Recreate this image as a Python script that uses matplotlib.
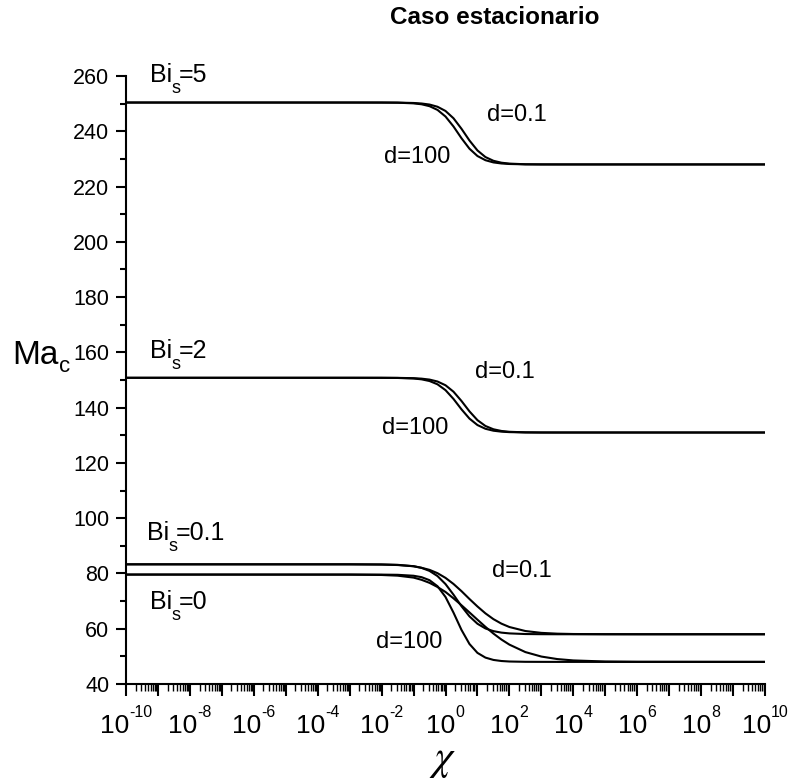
import numpy as np
import matplotlib
matplotlib.use("Agg")
import matplotlib.pyplot as plt
from matplotlib.ticker import FixedLocator, NullFormatter, LogLocator, MultipleLocator

plt.rcParams["font.family"] = ["Liberation Sans", "DejaVu Sans"]

# Critical Marangoni number vs chi for several Biot numbers, stationary case
log_chi = [-10, -3, -2, -1.5, -1, -0.75, -0.5, -0.25, 0, 0.25, 0.5, 0.75, 1,
           1.25, 1.5, 1.75, 2, 2.5, 3, 3.5, 4, 5, 6, 10]

ma_bi5_d100 = [250.4, 250.4, 250.39, 250.34, 250.10, 249.77, 249.08, 247.73,
               245.34, 241.74, 237.49, 233.69, 231.05, 229.53, 228.73, 228.35,
               228.16, 228.03, 228.0, 228.0, 228.0, 228.0, 228.0, 228.0]
ma_bi5_d01 = [250.4, 250.4, 250.39, 250.37, 250.24, 250.05, 249.67, 248.87,
              247.35, 244.71, 240.91, 236.66, 233.06, 230.67, 229.32, 228.63,
              228.30, 228.06, 228.01, 228.0, 228.0, 228.0, 228.0, 228.0]
ma_bi2_d100 = [150.8, 150.8, 150.79, 150.74, 150.54, 150.24, 149.63, 148.44,
               146.33, 143.15, 139.39, 136.03, 133.70, 132.35, 131.65, 131.31,
               131.14, 131.03, 131.0, 131.0, 131.0, 131.0, 131.0, 131.0]
ma_bi2_d01 = [150.8, 150.8, 150.79, 150.77, 150.66, 150.49, 150.15, 149.45,
              148.10, 145.77, 142.41, 138.65, 135.47, 133.36, 132.17, 131.56,
              131.26, 131.06, 131.01, 131.0, 131.0, 131.0, 131.0, 131.0]
ma_bi01_d100 = [83.3, 83.3, 83.25, 83.12, 82.63, 82.02, 80.92, 79.05, 76.16,
                72.33, 68.15, 64.48, 61.80, 60.10, 59.13, 58.59, 58.31, 58.08,
                58.02, 58.0, 58.0, 58.0, 58.0, 58.0]
ma_bi01_d01 = [83.3, 83.3, 83.22, 83.05, 82.6, 82.05, 81.3, 80.1, 78.4, 76.2,
               73.6, 70.76, 68.05, 65.56, 63.47, 61.84, 60.62, 59.17, 58.50,
               58.21, 58.09, 58.02, 58.0, 58.0]
ma_bi0_d100 = [79.6, 79.6, 79.58, 79.51, 79.17, 78.66, 77.56, 75.38, 71.49,
               65.83, 59.58, 54.48, 51.26, 49.55, 48.71, 48.32, 48.14, 48.03,
               48.01, 48.0, 48.0, 48.0, 48.0, 48.0]
ma_bi0_d01 = [79.6, 79.58, 79.45, 79.2, 78.5, 77.7, 76.6, 75.1, 73.3, 71.0,
              68.5, 65.90, 63.27, 60.68, 58.25, 56.09, 54.25, 51.55, 49.93,
              49.02, 48.53, 48.14, 48.04, 48.0]

curves = [ma_bi5_d100, ma_bi5_d01, ma_bi2_d100, ma_bi2_d01,
          ma_bi01_d100, ma_bi01_d01, ma_bi0_d100, ma_bi0_d01]

y_ticks = [40, 60, 80, 100, 120, 140, 160, 180, 200, 220, 240, 260]
x_decades = list(range(-10, 11))
x_labelled = list(range(-10, 11, 2))

W, H = 788, 782
fig = plt.figure(figsize=(W / 100, H / 100), dpi=100)
ax = fig.add_axes([126 / W, 1 - 684 / H, (765 - 126) / W, (684 - 76) / H])

chi = 10.0 ** np.array(log_chi)
for ma in curves:
    ax.plot(chi, ma, color="black", lw=1.5, solid_joinstyle="round")

ax.set_xscale("log")
ax.set_xlim(1e-10, 1e10)
ax.set_ylim(40, 260)

for side in ("top", "right"):
    ax.spines[side].set_visible(False)
for side in ("left", "bottom"):
    ax.spines[side].set_linewidth(1.5)

ax.xaxis.set_major_locator(FixedLocator([10.0 ** k for k in x_decades]))
ax.xaxis.set_minor_locator(LogLocator(base=10, subs=np.arange(2, 10), numticks=200))
ax.xaxis.set_major_formatter(NullFormatter())
ax.xaxis.set_minor_formatter(NullFormatter())
ax.yaxis.set_major_locator(FixedLocator(y_ticks))
ax.yaxis.set_minor_locator(MultipleLocator(10))

ax.tick_params(axis="x", which="major", direction="out", length=8.5, width=1.5)
ax.tick_params(axis="x", which="minor", direction="out", length=5, width=1.0)
ax.tick_params(axis="y", which="major", direction="out", length=7, width=1.5,
               labelsize=15.5, pad=5)
ax.tick_params(axis="y", which="minor", direction="out", length=4, width=1.5)

renderer = fig.canvas.get_renderer()


def px_to_fig(xp, yp):
    return xp / W, 1 - yp / H


def chain(x_px, base_px, parts, center=False):
    """Lay out text pieces left to right; each piece is (text, size, drop_px, shift_px)."""
    items = []
    total = 0.0
    for s, size, drop, shift in parts:
        t = fig.text(0, 0, s, fontsize=size, ha="left", va="baseline")
        w = t.get_window_extent(renderer).width
        items.append((t, drop, shift, w))
        total += shift + w
    cx = x_px - total / 2 if center else x_px
    for t, drop, shift, w in items:
        cx += shift
        t.set_position(px_to_fig(cx, base_px + drop))
        cx += w


# decade labels under the x axis, written as a base with a raised exponent
for k in x_labelled:
    xt = ax.transData.transform((10.0 ** k, 40))[0]
    chain(xt, 733, [("10", 19, 0, 0), (str(k), 11.5, -16, 0)], center=True)


def bi_label(x_px, base_px, value):
    chain(x_px, base_px, [("Bi", 18, 0, 0), ("s", 13, 11, -1), ("=" + value, 18, 0, -1)])


bi_label(150, 82, "5")
bi_label(150, 358, "2")
bi_label(147, 540, "0.1")
bi_label(150, 609, "0")

d_labels = [("d=0.1", 517, 115), ("d=100", 417, 157),
            ("d=0.1", 505, 372), ("d=100", 415, 428),
            ("d=0.1", 522, 571), ("d=100", 409, 642)]
for s, xp, yp in d_labels:
    fig.text(*px_to_fig(xp, yp), s, fontsize=17, ha="center", va="center")

chain(12, 364, [("Ma", 24, 0, 0), ("c", 16, 8, 1)])
fig.text(*px_to_fig(443, 760), r"$\chi$", fontsize=30, math_fontfamily="stix",
         ha="center", va="center")
fig.text(*px_to_fig(495, 18), "Caso estacionario", fontsize=17.5,
         fontweight="bold", ha="center", va="center")

fig.savefig("out.png", dpi=100)
